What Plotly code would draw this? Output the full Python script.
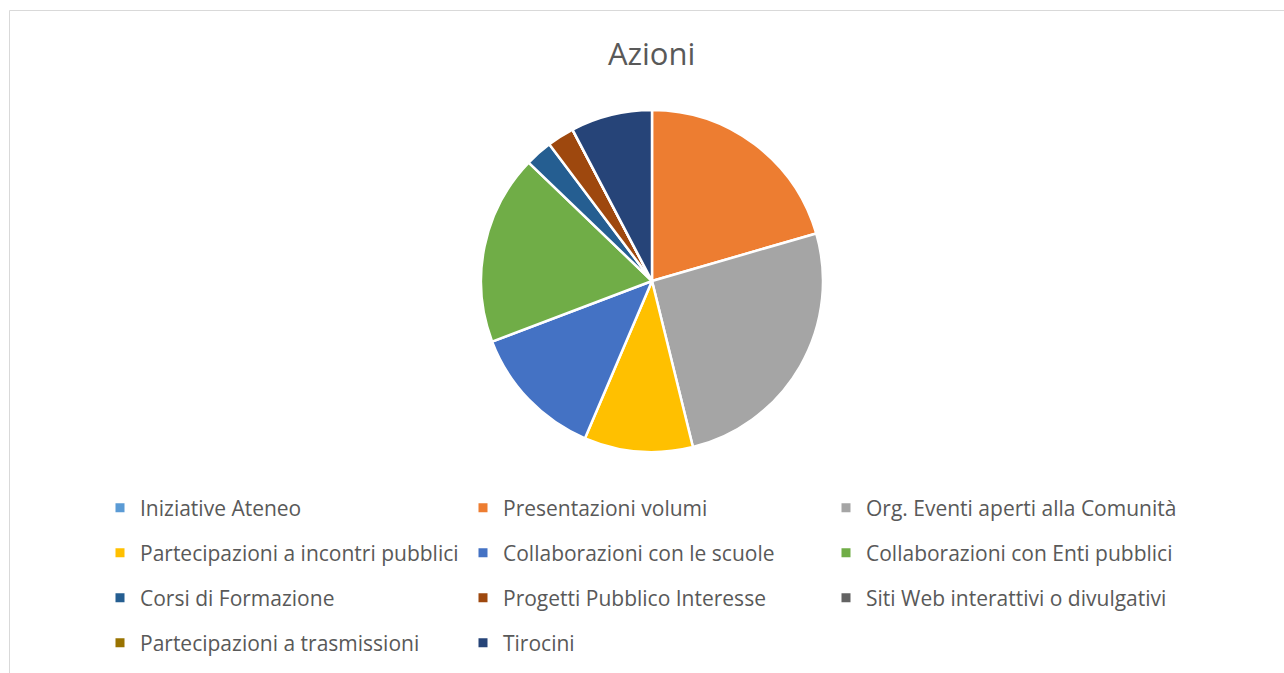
import plotly.graph_objects as go

categories = [
    "Iniziative Ateneo",
    "Presentazioni volumi",
    "Org. Eventi aperti alla Comunità",
    "Partecipazioni a incontri pubblici",
    "Collaborazioni con le scuole",
    "Collaborazioni con Enti pubblici",
    "Corsi di Formazione",
    "Progetti Pubblico Interesse",
    "Siti Web interattivi o divulgativi",
    "Partecipazioni a trasmissioni",
    "Tirocini",
]
values = [0, 8, 10, 4, 5, 7, 1, 1, 0, 0, 3]
colors = [
    "#5B9BD5", "#ED7D31", "#A5A5A5", "#FFC000", "#4472C4", "#70AD47",
    "#255E91", "#9E480E", "#636363", "#997300", "#264478",
]

W, H = 1284, 673
FONT = "Open Sans"
TXT = "#595959"

fig = go.Figure()

# pie
cx, cy, r = 652, 281, 171
fig.add_trace(go.Pie(
    labels=categories, values=values, sort=False, direction="clockwise",
    rotation=0, textinfo="none", hoverinfo="label+value+percent",
    marker=dict(colors=colors, line=dict(color="white", width=2.5)),
    domain=dict(x=[(cx - r) / W, (cx + r) / W], y=[1 - (cy + r) / H, 1 - (cy - r) / H]),
    showlegend=False,
))

# legend entries (3 per row, 4 rows)
legend_names = ["legend", "legend2", "legend3", "legend4"]
for i, (lab, col) in enumerate(zip(categories, colors)):
    fig.add_trace(go.Scatter(
        x=[None], y=[None], mode="markers", name=lab,
        marker=dict(symbol="square", size=9, color=col),
        legend=legend_names[i // 3], showlegend=True, hoverinfo="skip",
    ))

row_y = [508, 553, 598, 643]
leg_common = dict(
    orientation="h", xanchor="left", yanchor="middle",
    x=100 / W, entrywidth=318, entrywidthmode="pixels",
    font=dict(family=FONT, size=21, color=TXT),
    bgcolor="rgba(0,0,0,0)", borderwidth=0, itemclick=False, itemdoubleclick=False,
)
layout_legends = {}
for name, yy in zip(legend_names, row_y):
    d = dict(leg_common)
    d["y"] = 1 - yy / H
    layout_legends[name] = d

fig.update_layout(
    width=W, height=H,
    margin=dict(l=0, r=0, t=0, b=0),
    paper_bgcolor="white", plot_bgcolor="white",
    title=dict(text="Azioni", x=0.5075, xanchor="center", y=1 - 54 / H, yanchor="middle",
               font=dict(family=FONT, size=31, color=TXT)),
    xaxis=dict(visible=False), yaxis=dict(visible=False),
    shapes=[dict(type="rect", xref="paper", yref="paper",
                 x0=9.5 / W, x1=1.02, y0=-0.05, y1=1 - 10.5 / H,
                 line=dict(color="#D9D9D9", width=1), fillcolor="rgba(0,0,0,0)", layer="below")],
    **layout_legends,
)

fig.write_html("out.html", config={"displayModeBar": False},
               post_script="document.body.style.margin='0';")
